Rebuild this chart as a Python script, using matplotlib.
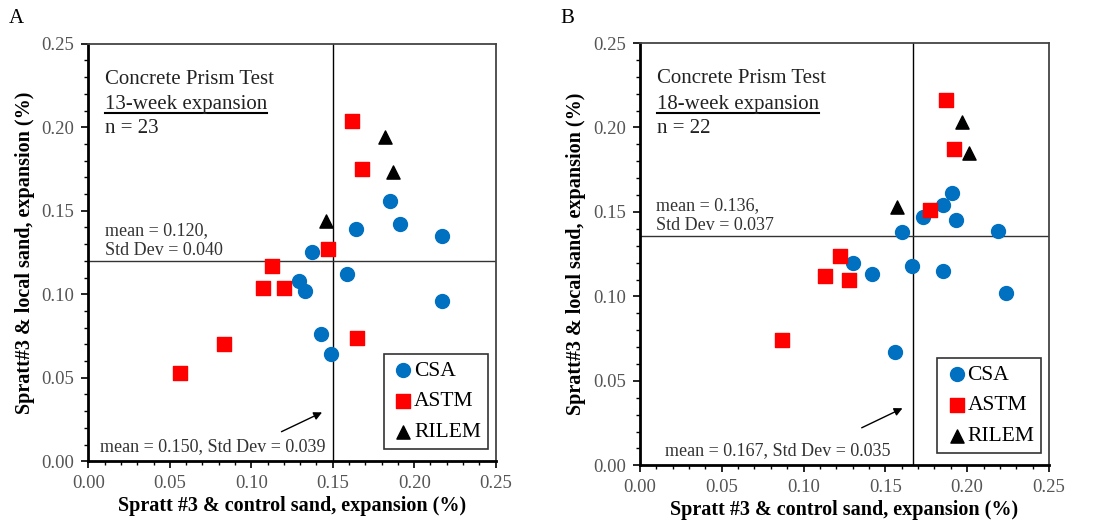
#!/usr/bin/env python3
"""Concrete prism test: local sand vs control sand expansion (13 and 18 weeks)."""

import matplotlib
matplotlib.use('Agg')
import matplotlib.pyplot as plt
from matplotlib.ticker import MultipleLocator

plt.rcParams['font.family'] = ['Liberation Serif', 'DejaVu Serif']

# Panel A: 13-week expansion
a_csa_x = [0.185, 0.191, 0.164, 0.217, 0.137, 0.159, 0.129, 0.133, 0.217, 0.143, 0.149]
a_csa_y = [0.156, 0.142, 0.139, 0.135, 0.125, 0.112, 0.108, 0.102, 0.096, 0.076, 0.064]
a_astm_x = [0.162, 0.168, 0.147, 0.113, 0.107, 0.120, 0.165, 0.083, 0.056]
a_astm_y = [0.204, 0.175, 0.127, 0.117, 0.104, 0.104, 0.074, 0.070, 0.053]
a_rilem_x = [0.182, 0.187, 0.146]
a_rilem_y = [0.194, 0.173, 0.144]
a_mean_x, a_sd_x = 0.150, 0.039
a_mean_y, a_sd_y = 0.120, 0.040

# Panel B: 18-week expansion
b_csa_x = [0.191, 0.185, 0.173, 0.193, 0.160, 0.219, 0.130, 0.142, 0.166, 0.185, 0.224, 0.156]
b_csa_y = [0.161, 0.154, 0.147, 0.145, 0.138, 0.139, 0.120, 0.113, 0.118, 0.115, 0.102, 0.067]
b_astm_x = [0.187, 0.192, 0.177, 0.122, 0.113, 0.128, 0.087]
b_astm_y = [0.216, 0.187, 0.151, 0.124, 0.112, 0.110, 0.074]
b_rilem_x = [0.197, 0.201, 0.157]
b_rilem_y = [0.203, 0.185, 0.153]
b_mean_x, b_sd_x = 0.167, 0.035
b_mean_y, b_sd_y = 0.136, 0.037

panels = [
    dict(letter='A', weeks='13-week expansion', n=23,
         csa=(a_csa_x, a_csa_y), astm=(a_astm_x, a_astm_y), rilem=(a_rilem_x, a_rilem_y),
         mx=a_mean_x, sx=a_sd_x, my=a_mean_y, sy=a_sd_y,
         rect=[0.0803, 0.1313, 0.3703, 0.7864], bottom_x=0.007, arrow_dy=0.0),
    dict(letter='B', weeks='18-week expansion', n=22,
         csa=(b_csa_x, b_csa_y), astm=(b_astm_x, b_astm_y), rilem=(b_rilem_x, b_rilem_y),
         mx=b_mean_x, sx=b_sd_x, my=b_mean_y, sy=b_sd_y,
         rect=[0.5818, 0.1237, 0.3718, 0.7953], bottom_x=0.015, arrow_dy=0.0045),
]

fig = plt.figure(figsize=(11, 5.31), dpi=100)

underlines = []
for p in panels:
    ax = fig.add_axes(p['rect'])
    ax.set_xlim(0, 0.25)
    ax.set_ylim(0, 0.25)

    ax.scatter(*p['csa'], marker='o', s=100, color='#0070C0', label='CSA', zorder=3)
    ax.scatter(*p['astm'], marker='s', s=100, color='#FF0000', label='ASTM', zorder=3)
    ax.scatter(*p['rilem'], marker='^', s=90, color='black', label='RILEM', zorder=3)

    # Mean lines
    ax.axvline(p['mx'], color='black', linewidth=1, zorder=2)
    ax.axhline(p['my'], color='#333333', linewidth=1, zorder=2)

    # Axes formatting
    ax.xaxis.set_major_locator(MultipleLocator(0.05))
    ax.yaxis.set_major_locator(MultipleLocator(0.05))
    ax.xaxis.set_minor_locator(MultipleLocator(0.01))
    ax.yaxis.set_minor_locator(MultipleLocator(0.01))
    ax.xaxis.set_major_formatter(plt.FormatStrFormatter('%.2f'))
    ax.yaxis.set_major_formatter(plt.FormatStrFormatter('%.2f'))
    ax.tick_params(which='major', direction='out', length=5, width=1.2,
                   labelsize=13.5, labelcolor='#555555', pad=5)
    ax.tick_params(which='minor', direction='out', length=3, width=1)
    for side in ['left', 'bottom']:
        ax.spines[side].set_linewidth(2)
        ax.spines[side].set_color('black')
    for side in ['top', 'right']:
        ax.spines[side].set_linewidth(1.3)
        ax.spines[side].set_color('#444444')

    ax.set_xlabel('Spratt #3 & control sand, expansion (%)', fontsize=14.5,
                  fontweight='bold', labelpad=3)
    ax.set_ylabel('Spratt#3 & local sand, expansion (%)', fontsize=14.5,
                  fontweight='bold', labelpad=5)

    # Annotations
    ax.text(0.041, 0.915, 'Concrete Prism Test', transform=ax.transAxes,
            fontsize=15, va='center', color='#222222')
    t = ax.text(0.041, 0.855, p['weeks'], transform=ax.transAxes,
                fontsize=15, va='center', color='#222222')
    underlines.append((ax, t))
    ax.text(0.041, 0.797, f"n = {p['n']}", transform=ax.transAxes,
            fontsize=15, va='center', color='#222222')

    ax.text(0.01, p['my'] + 0.018, f"mean = {p['my']:.3f},", fontsize=13,
            va='center', color='#333333')
    ax.text(0.01, p['my'] + 0.006, f"Std Dev = {p['sy']:.3f}", fontsize=13,
            va='center', color='#333333')

    ax.text(p['bottom_x'], 0.009, f"mean = {p['mx']:.3f}, Std Dev = {p['sx']:.3f}",
            fontsize=13, va='center', color='#333333')
    ax.annotate('', xy=(p['mx'] - 0.005, 0.030 + p['arrow_dy']),
                xytext=(p['mx'] - 0.033, 0.017 + p['arrow_dy']),
                arrowprops=dict(arrowstyle='-|>', color='black', lw=1,
                                mutation_scale=12))

    leg = ax.legend(loc='lower right', bbox_to_anchor=(0.98, 0.03),
                    fontsize=15.5, frameon=True, fancybox=False,
                    edgecolor='black', handletextpad=-0.1, borderpad=0.3,
                    labelspacing=0.5, handlelength=1.2, borderaxespad=0)
    leg.get_frame().set_linewidth(1.2)

    fig.text(p['rect'][0] - 0.072, 0.965, p['letter'], fontsize=15, va='center')

# Underline the week label
fig.canvas.draw()
renderer = fig.canvas.get_renderer()
for ax, t in underlines:
    bb = t.get_window_extent(renderer).transformed(ax.transAxes.inverted())
    ax.plot([bb.x0, bb.x1], [bb.y0 + 0.002, bb.y0 + 0.002], transform=ax.transAxes,
            color='black', linewidth=1.5, clip_on=False)

plt.savefig('out.png', dpi=100)
